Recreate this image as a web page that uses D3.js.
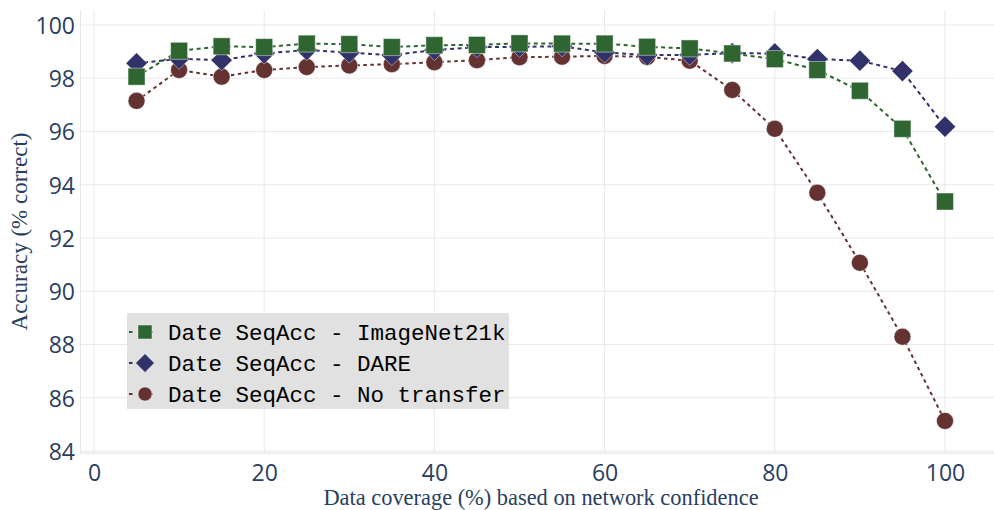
<!DOCTYPE html>
<html>
<head>
<meta charset="utf-8">
<script src="https://cdn.jsdelivr.net/npm/d3@7"></script>
<style>
  html, body { margin: 0; padding: 0; background: #ffffff; }
  svg { display: block; }
</style>
</head>
<body>
<svg id="chart" width="994" height="510"></svg>
<script>
// ---- data ----
const coverage = [5,10,15,20,25,30,35,40,45,50,55,60,65,70,75,80,85,90,95,100];
const imagenet21k = [98.06,99.03,99.2,99.17,99.3,99.28,99.17,99.24,99.25,99.31,99.3,99.3,99.18,99.12,98.93,98.72,98.31,97.53,96.1,93.37];
const dare = [98.56,98.73,98.68,98.93,99.06,98.96,98.87,99.06,99.17,99.18,99.2,98.97,98.87,98.88,98.94,98.93,98.72,98.66,98.27,96.18];
const noTransfer = [97.15,98.31,98.06,98.31,98.42,98.48,98.53,98.6,98.68,98.79,98.81,98.84,98.8,98.66,97.56,96.1,93.7,91.07,88.29,85.13];
const seriesNames = ["Date SeqAcc - ImageNet21k", "Date SeqAcc - DARE", "Date SeqAcc - No transfer"];
const xTicks = [0,20,40,60,80,100];
const yTicks = [84,86,88,90,92,94,96,98,100];

// ---- styles ----
const colors = ["#2f6531", "#31326a", "#653232"];
const symbols = ["square", "diamond", "circle"];
const dashes = ["4,3.5", "4,3.5", "3.5,3.5"];

const svg = d3.select("#chart");
const pLeft = 80, pRight = 994, pTop = 10, pBottom = 453;

const x = d3.scaleLinear().domain([-1.645, 105.76]).range([pLeft, pRight]);
const y = d3.scaleLinear().domain([83.925, 100.563]).range([pBottom, pTop]);

// grid
const grid = svg.append("g");
grid.selectAll("line.v").data(xTicks).join("line")
  .attr("x1", d => x(d)).attr("x2", d => x(d))
  .attr("y1", pTop).attr("y2", pBottom)
  .attr("stroke", "#e9e9e9").attr("stroke-width", 1);
grid.selectAll("line.h").data(yTicks).join("line")
  .attr("x1", pLeft).attr("x2", pRight)
  .attr("y1", d => y(d)).attr("y2", d => y(d))
  .attr("stroke", "#e9e9e9").attr("stroke-width", 1);
// axis lines
svg.append("line").attr("x1", pLeft + 0.5).attr("x2", pLeft + 0.5).attr("y1", pTop).attr("y2", pBottom)
  .attr("stroke", "#e6e6e6").attr("stroke-width", 1);
svg.append("line").attr("x1", pLeft).attr("x2", pRight).attr("y1", pBottom).attr("y2", pBottom)
  .attr("stroke", "#f0f0f0").attr("stroke-width", 2.5);

// axes (text only)
const tickFont = "'Open Sans', sans-serif";
const xAxis = d3.axisBottom(x).tickValues(xTicks).tickSize(0).tickPadding(0);
const gx = svg.append("g").attr("transform", `translate(0,${pBottom})`).call(xAxis);
gx.select(".domain").remove();
gx.selectAll("text").attr("font-family", tickFont).attr("font-size", 23)
  .attr("fill", "#2a3f5f").attr("y", 28).attr("dy", 0);

const yAxis = d3.axisLeft(y).tickValues(yTicks).tickSize(0).tickPadding(0);
const gy = svg.append("g").attr("transform", `translate(${pLeft},0)`).call(yAxis);
gy.select(".domain").remove();
gy.selectAll("text").attr("font-family", tickFont).attr("font-size", 23)
  .attr("fill", "#2a3f5f").attr("x", -5).attr("dy", "0.36em");

// axis titles
svg.append("text").attr("x", 541).attr("y", 505)
  .attr("text-anchor", "middle").attr("font-family", "'Liberation Serif', 'Times New Roman', serif")
  .attr("font-size", 22.4).attr("fill", "#2a3f5f")
  .text("Data coverage (%) based on network confidence");
svg.append("text").attr("transform", `translate(27,${(pTop + pBottom) / 2}) rotate(-90)`)
  .attr("text-anchor", "middle").attr("font-family", "'Liberation Serif', 'Times New Roman', serif")
  .attr("font-size", 23).attr("fill", "#2a3f5f")
  .text("Accuracy (% correct)");

// marker drawing
function drawMarker(g, sym, size, color) {
  const h = size / 2;
  if (sym === "square") {
    g.append("rect").attr("x", -h).attr("y", -h).attr("width", size).attr("height", size)
      .attr("fill", color).attr("stroke", "rgba(255,255,255,0.45)").attr("stroke-width", 1);
  } else if (sym === "diamond") {
    const r = h * 1.25;
    g.append("path").attr("d", `M${-r},0L0,${-r}L${r},0L0,${r}Z`)
      .attr("fill", color).attr("stroke", "rgba(255,255,255,0.45)").attr("stroke-width", 1);
  } else {
    g.append("circle").attr("r", h).attr("fill", color)
      .attr("stroke", "rgba(255,255,255,0.45)").attr("stroke-width", 1);
  }
}

const allSeries = [imagenet21k, dare, noTransfer];
const line = d3.line().x(d => x(d[0])).y(d => y(d[1]));

// draw in order: No transfer, DARE, ImageNet21k (last on top)
[2, 1, 0].forEach(i => {
  const pts = coverage.map((c, j) => [c, allSeries[i][j]]);
  const g = svg.append("g");
  g.append("path").datum(pts).attr("d", line)
    .attr("fill", "none").attr("stroke", colors[i]).attr("stroke-width", 2)
    .attr("stroke-dasharray", dashes[i]);
  pts.forEach(p => {
    const m = g.append("g").attr("transform", `translate(${x(p[0])},${y(p[1])})`);
    drawMarker(m, symbols[i], 17, colors[i]);
  });
});

// legend
const lg = svg.append("g");
lg.append("rect").attr("x", 127).attr("y", 313).attr("width", 382).attr("height", 96)
  .attr("fill", "#e1e1e1");
const rowY = [332, 363, 394];
seriesNames.forEach((name, i) => {
  const cy = rowY[i];
  lg.append("line").attr("x1", 129).attr("x2", 160).attr("y1", cy).attr("y2", cy)
    .attr("stroke", colors[i]).attr("stroke-width", 2).attr("stroke-dasharray", "3.5,16.5");
  const m = lg.append("g").attr("transform", `translate(145,${cy})`);
  drawMarker(m, symbols[i], i === 1 ? 15 : 14, colors[i]);
  lg.append("text").attr("x", 168).attr("y", cy + 7.5)
    .attr("font-family", "'Liberation Mono', 'Courier New', monospace")
    .attr("font-size", 22.5).attr("fill", "#000")
    .text(name);
});
</script>
</body>
</html>
